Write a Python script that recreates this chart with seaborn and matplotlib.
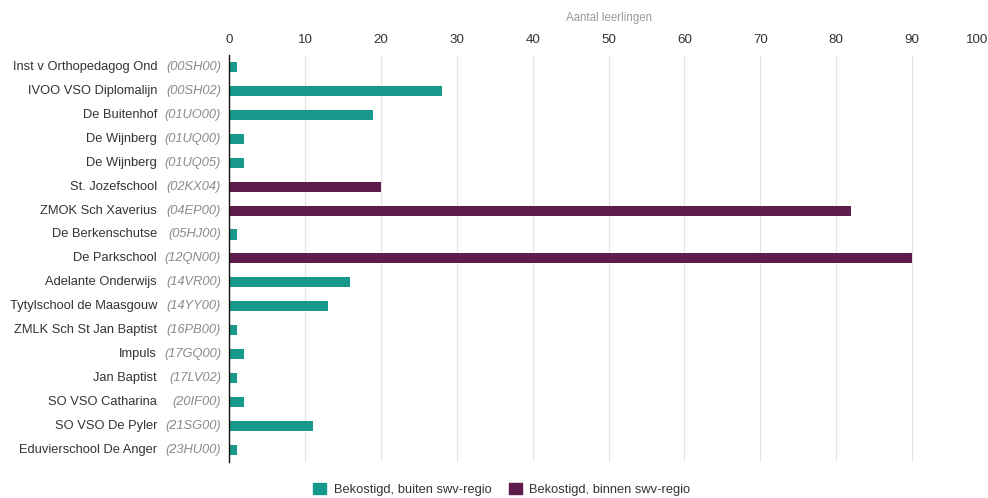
import pandas as pd
import matplotlib.pyplot as plt
import matplotlib.transforms as mtransforms
import seaborn as sns
from matplotlib.patches import Patch

# data
SCHOOLS = ["Inst v Orthopedagog Ond", "IVOO VSO Diplomalijn", "De Buitenhof",
           "De Wijnberg", "De Wijnberg", "St. Jozefschool", "ZMOK Sch Xaverius",
           "De Berkenschutse", "De Parkschool", "Adelante Onderwijs",
           "Tytylschool de Maasgouw", "ZMLK Sch St Jan Baptist", "Impuls",
           "Jan Baptist", "SO VSO Catharina", "SO VSO De Pyler",
           "Eduvierschool De Anger"]
CODES = ["00SH00", "00SH02", "01UO00", "01UQ00", "01UQ05", "02KX04", "04EP00",
         "05HJ00", "12QN00", "14VR00", "14YY00", "16PB00", "17GQ00", "17LV02",
         "20IF00", "21SG00", "23HU00"]
LEERLINGEN = [1, 28, 19, 2, 2, 20, 82, 1, 90, 16, 13, 1, 2, 1, 2, 11, 1]
GROEP = ["buiten", "buiten", "buiten", "buiten", "buiten", "binnen", "binnen",
         "buiten", "binnen", "buiten", "buiten", "buiten", "buiten", "buiten",
         "buiten", "buiten", "buiten"]
LEGEND_LABELS = {"buiten": "Bekostigd, buiten swv-regio",
                 "binnen": "Bekostigd, binnen swv-regio"}
COLORS = {"buiten": "#16998b", "binnen": "#5e1b4b"}

sns.set_theme(style="white")
plt.rcParams["font.family"] = ["Liberation Sans", "DejaVu Sans"]

df = pd.DataFrame({"key": [f"{s} ({c})" for s, c in zip(SCHOOLS, CODES)],
                   "value": LEERLINGEN, "groep": GROEP})

fig = plt.figure(figsize=(9.88, 4.98), dpi=100)
ax = fig.add_axes([0.2318, 0.072, 0.7682, 0.818])

sns.barplot(data=df, x="value", y="key", hue="groep", palette=COLORS,
            dodge=False, width=0.42, orient="h", ax=ax, legend=False,
            saturation=1, linewidth=0)

ax.set_xlim(0, 100)
ax.set_xticks(range(0, 101, 10))
ax.xaxis.tick_top()
ax.xaxis.set_label_position("top")
ax.set_xlabel("Aantal leerlingen", color="#999999", fontsize=8.3, labelpad=10)
ax.set_ylabel("")
ax.tick_params(axis="x", length=0, labelsize=9.6, colors="#333333", pad=6)
ax.get_xticklabels()[-1].set_horizontalalignment("right")
ax.tick_params(axis="y", length=0)
ax.set_yticklabels([])
ax.grid(axis="x", color="#e4e4e4", linewidth=0.8)
ax.set_axisbelow(True)
for side in ["top", "right", "bottom"]:
    ax.spines[side].set_visible(False)
ax.spines["left"].set_color("#111111")
ax.spines["left"].set_linewidth(1)

# two-part labels: name plain, code grey italic
trans = mtransforms.blended_transform_factory(fig.transFigure, ax.transData)
for i, (s, c) in enumerate(zip(SCHOOLS, CODES)):
    ax.text(157 / 988, i, s, transform=trans, ha="right", va="center",
            fontsize=9.3, color="#333333")
    ax.text(221 / 988, i, f"({c})", transform=trans, ha="right", va="center",
            fontsize=9.3, color="#8a8a8a", style="italic")

handles = [Patch(color=COLORS[k], label=LEGEND_LABELS[k]) for k in ["buiten", "binnen"]]
fig.legend(handles=handles, loc="center", bbox_to_anchor=(0.508, 0.017),
           ncol=2, frameon=False, fontsize=9.3, handlelength=1.0,
           handleheight=1.0, columnspacing=1.3, handletextpad=0.6,
           labelcolor="#333333")

fig.savefig("out.png", dpi=100)
